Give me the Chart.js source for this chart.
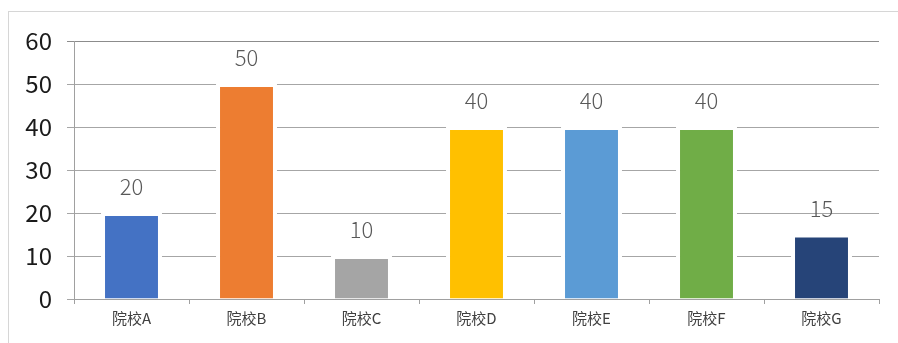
<!DOCTYPE html>
<html>
<head>
<meta charset="utf-8">
<script src="https://cdn.jsdelivr.net/npm/chart.js@4/dist/chart.umd.min.js"></script>
<style>
  html, body { margin: 0; padding: 0; background: #ffffff; }
  #wrap { position: relative; width: 898px; height: 343px; overflow: hidden; }
  #frame { position: absolute; left: 8px; top: 11px; width: 1000px; height: 1000px;
           border-top: 1px solid #d6d6d6; border-left: 1px solid #d6d6d6; }
  canvas { position: absolute; left: 0; top: 0; }
</style>
</head>
<body>
<div id="wrap">
  <div id="frame"></div>
  <canvas id="c" width="898" height="343"></canvas>
</div>
<script>
const categories = ['院校A', '院校B', '院校C', '院校D', '院校E', '院校F', '院校G'];
const values = [20, 50, 10, 40, 40, 40, 15];
const barColors = ['#4472C4', '#ED7D31', '#A5A5A5', '#FFC000', '#5B9BD5', '#70AD47', '#264478'];
const yTicks = [0, 10, 20, 30, 40, 50, 60];

const FONT = '"Noto Sans CJK SC", "Noto Sans", sans-serif';

const valueLabels = {
  id: 'valueLabels',
  afterDatasetsDraw(chart) {
    const ctx = chart.ctx;
    const meta = chart.getDatasetMeta(0);
    ctx.save();
    ctx.font = '300 22px ' + FONT;
    ctx.fillStyle = '#595959';
    ctx.textAlign = 'center';
    ctx.textBaseline = 'middle';
    meta.data.forEach((bar, i) => {
      ctx.fillText(String(values[i]), bar.x, bar.y - 26);
    });
    ctx.restore();
  }
};

new Chart(document.getElementById('c'), {
  type: 'bar',
  data: {
    labels: categories,
    datasets: [{
      data: values,
      backgroundColor: barColors,
      borderColor: '#ffffff',
      borderWidth: { top: 3, left: 4, right: 4, bottom: 0 },
      borderSkipped: 'start',
      barPercentage: 0.53,
      categoryPercentage: 1.0
    }]
  },
  options: {
    responsive: false,
    animation: false,
    devicePixelRatio: 1,
    layout: { padding: { top: 41, right: 19, bottom: 0, left: 0 } },
    plugins: {
      legend: { display: false },
      tooltip: { enabled: false }
    },
    scales: {
      x: {
        grid: { display: true, drawOnChartArea: false, drawTicks: true, tickLength: 5, color: '#a0a0a0', offset: true },
        border: { display: true, color: '#a0a0a0', width: 1 },
        ticks: { color: '#404040', font: { family: FONT, size: 15 }, padding: 5 },
        afterFit(scale) { scale.height = 44; }
      },
      y: {
        min: 0,
        max: 60,
        afterBuildTicks(scale) { scale.ticks = yTicks.map(v => ({ value: v })); },
        grid: {
          color: (c) => c.tick && c.tick.value === 60 ? '#8c8c8c' : '#a6a6a6',
          lineWidth: 1,
          tickLength: 7
        },
        border: { display: true, color: '#a0a0a0', width: 1 },
        ticks: { color: '#1a1a1a', font: { family: FONT, size: 24, weight: 'normal' }, padding: 15 },
        afterFit(scale) { scale.width = 74; }
      }
    }
  },
  plugins: [valueLabels]
});
</script>
</body>
</html>
